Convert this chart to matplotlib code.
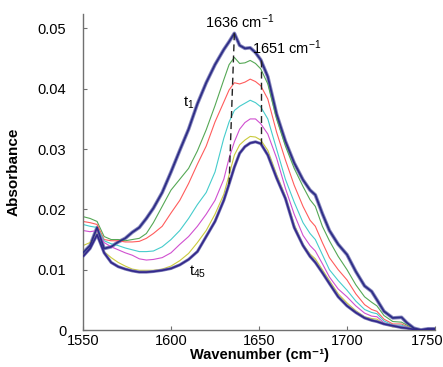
import matplotlib
matplotlib.use("Agg")
import matplotlib.pyplot as plt
from matplotlib.transforms import ScaledTranslation

plt.rcParams["font.family"] = ["Liberation Sans", "DejaVu Sans"]
plt.rcParams["mathtext.fontset"] = "custom"
plt.rcParams["mathtext.rm"] = "Liberation Sans"
plt.rcParams["mathtext.it"] = "Liberation Sans:italic"
plt.rcParams["mathtext.bf"] = "Liberation Sans:bold"

# wavenumber grid (cm-1)
wavenumber = [1550, 1554, 1558, 1562, 1566, 1570, 1574, 1578, 1582, 1586, 1590,
              1595, 1600, 1605, 1610, 1615, 1620, 1625, 1630,
              1633, 1636, 1639, 1642, 1645, 1648, 1651,
              1655, 1660, 1665, 1670, 1675,
              1679, 1682, 1686, 1690, 1695, 1700, 1705, 1710,
              1714, 1717, 1721, 1726, 1731, 1734, 1738, 1742, 1746, 1750]

# t1 group (upper bunch of spectra)
abs_t1 = [.0128, .0140, .0170, .0135, .0138, .0146, .0152, .0162, .0170, .0185, .0202,
          .0228, .0262, .0298, .0333, .0375, .0410, .0440, .0465,
          .0478, .0492, .0472, .0467, .0468, .0460, .0448,
          .0420, .0358, .0313, .0277, .0249,
          .0232, .0224, .0193, .0165, .0142, .0125, .0097, .0073,
          .0064, .0050, .0031, .0020, .0021, .0012, .0003, .0000, .0002, .0002]

abs_green = [.0188, .0185, .0180, .0155, .0150, .0150, .0148, .0150, .0152, .0160, .0178,
             .0205, .0232, .0250, .0268, .0297, .0332, .0372, .0415,
             .0440, .0452, .0442, .0443, .0447, .0442, .0433,
             .0408, .0350, .0305, .0268, .0238,
             .0216, .0205, .0172, .0148, .0122, .0100, .0075, .0055,
             .0046, .0040, .0024, .0014, .0013, .0008, .0002, .0000, .0001, .0001]

abs_red = [.0180, .0178, .0175, .0150, .0148, .0148, .0146, .0146, .0147, .0152, .0160,
           .0172, .0194, .0215, .0243, .0275, .0305, .0345, .0378,
           .0398, .0410, .0408, .0411, .0416, .0412, .0405,
           .0383, .0328, .0282, .0240, .0205,
           .0182, .0172, .0145, .0120, .0100, .0083, .0060, .0042,
           .0034, .0031, .0018, .0010, .0010, .0006, .0001, .0000, .0001, .0001]

abs_cyan = [.0175, .0172, .0170, .0148, .0143, .0140, .0136, .0133, .0130, .0130, .0131,
            .0138, .0150, .0165, .0185, .0208, .0228, .0262, .0318,
            .0345, .0364, .0371, .0376, .0381, .0377, .0370,
            .0350, .0300, .0250, .0212, .0178,
            .0160, .0150, .0125, .0100, .0082, .0066, .0048, .0034,
            .0029, .0027, .0015, .0008, .0008, .0005, .0001, .0000, .0001, .0001]

abs_magenta = [.0165, .0163, .0165, .0145, .0138, .0133, .0128, .0124, .0118, .0116, .0117,
               .0120, .0128, .0142, .0155, .0172, .0192, .0215, .0250,
               .0285, .0312, .0333, .0344, .0350, .0350, .0342,
               .0325, .0285, .0235, .0192, .0157,
               .0140, .0131, .0110, .0088, .0068, .0055, .0040, .0028,
               .0023, .0022, .0012, .0006, .0006, .0004, .0001, .0000, .0001, .0001]

abs_yellow = [.0140, .0145, .0160, .0130, .0120, .0112, .0106, .0101, .0099, .0099, .0099,
              .0101, .0106, .0115, .0127, .0145, .0165, .0192, .0225,
              .0257, .0290, .0307, .0315, .0321, .0320, .0315,
              .0298, .0258, .0222, .0175, .0142,
              .0126, .0118, .0100, .0082, .0060, .0045, .0032, .0022,
              .0019, .0018, .0010, .0005, .0005, .0003, .0000, .0000, .0001, .0001]

# t45 group (lower bunch of spectra)
abs_t45 = [.0122, .0135, .0158, .0128, .0112, .0105, .0101, .0098, .0096, .0096, .0097,
           .0099, .0102, .0108, .0117, .0130, .0155, .0180, .0215,
           .0242, .0270, .0293, .0304, .0310, .0312, .0309,
           .0290, .0252, .0218, .0170, .0140,
           .0122, .0112, .0095, .0077, .0055, .0040, .0029, .0020,
           .0016, .0014, .0010, .0007, .0004, .0003, .0001, .0000, .0001, .0001]

x_ticks = [1550, 1600, 1650, 1700, 1750]
y_ticks = [0, 0.01, 0.02, 0.03, 0.04, 0.05]
y_ticklabels = ["0", "0.01", "0.02", "0.03", "0.04", "0.05"]

fig = plt.figure(figsize=(4.43, 3.67), dpi=100)
ax = fig.add_axes([83 / 443, 37 / 367, 352 / 443, 316 / 367])

# upper bunch: light fringe + dark core
ax.plot(wavenumber, abs_t1, color="#8a8ac0", lw=2.6, zorder=2)
ax.plot(wavenumber, abs_t1, color="#2e2e86", lw=1.3, zorder=3)

mid = [(abs_green, "#55a855"), (abs_red, "#ff5c5c"), (abs_cyan, "#45cccc"),
       (abs_magenta, "#d050d0"), (abs_yellow, "#caca3c")]
for vals, col in mid:
    ax.plot(wavenumber, vals, color=col, lw=0.8, zorder=2)

ax.plot(wavenumber, abs_t45, color="#7a7ab8", lw=2.2, zorder=2)
ax.plot(wavenumber, abs_t45, color="#33288a", lw=1.2, zorder=3)

# dashed guides between the two bands
i_peak = wavenumber.index(1636)
i_low = wavenumber.index(1633)
i_sh = wavenumber.index(1651)
ax.plot([wavenumber[i_peak], wavenumber[i_low]], [abs_t1[i_peak], abs_t45[i_low]],
        ls=(0, (5, 3)), color="#222222", lw=1.0, zorder=4)
ax.plot([wavenumber[i_sh], wavenumber[i_sh]], [abs_t1[i_sh], abs_t45[i_sh]],
        ls=(0, (5, 3)), color="#222222", lw=1.0, zorder=4)

ax.text(1639, 0.0512, r"1636 cm$^{-1}$", fontsize=10.5, ha="center", va="center")
ax.text(1665.5, 0.0468, r"1651 cm$^{-1}$", fontsize=10.5, ha="center", va="center")
ax.text(1610, 0.0376, r"t$_1$", fontsize=10.5, ha="center", va="center")
ax.text(1615, 0.0096, r"t$_{45}$", fontsize=10.5, ha="center", va="center")

ax.set_xlim(1550, 1750)
ax.set_ylim(0, 0.0524)
ax.set_xticks(x_ticks)
ax.set_yticks(y_ticks)
ax.set_yticklabels(y_ticklabels)
ax.tick_params(direction="in", length=3, width=0.8, color="#707070",
               labelsize=10.5, labelcolor="black")
ax.tick_params(axis="y", pad=12)
ax.tick_params(axis="x", pad=3)
for side in ["top", "right"]:
    ax.spines[side].set_visible(False)
for side in ["left", "bottom"]:
    ax.spines[side].set_color("#707070")
    ax.spines[side].set_linewidth(1.0)

# last x label sits a little left so it stays inside the figure
last = ax.get_xticklabels()[-1]
last.set_transform(last.get_transform() + ScaledTranslation(-8 / 100, 0, fig.dpi_scale_trans))

ax.set_xlabel("Wavenumber (cm\u207b\u00b9)", fontsize=10.5, fontweight="bold")
ax.xaxis.set_label_coords(0.5, -0.058)
ax.set_ylabel("Absorbance", fontsize=11, fontweight="bold", labelpad=12)

fig.savefig("out.png", dpi=100)
plt.close(fig)
